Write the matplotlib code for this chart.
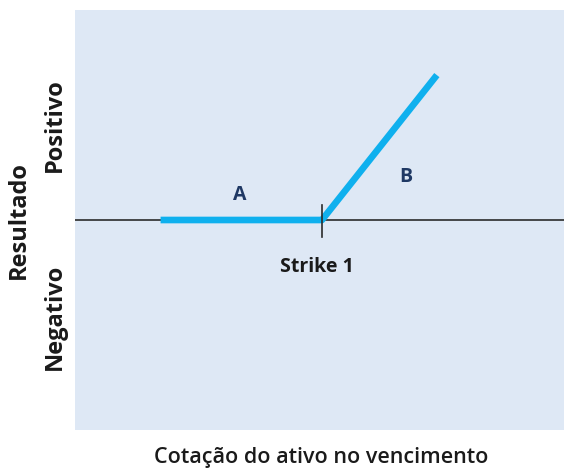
import matplotlib
matplotlib.use("Agg")
import matplotlib.pyplot as plt

# Data (payoff diagram)
payoff_x = [1.75, 5.05, 7.4]
payoff_y = [0.0, 0.0, 3.45]
strike = 5.05
labels_text = ["A", "B"]
labels_x = [3.37, 6.76]
labels_y = [0.6, 1.03]
strike_label = "Strike 1"
x_title = "Cotação do ativo no vencimento"
y_title = "Resultado"
y_pos_label = "Positivo"
y_neg_label = "Negativo"

plt.rcParams['font.family'] = ['Open Sans', 'DejaVu Sans']

fig = plt.figure(figsize=(5.64, 4.68), dpi=100)
W, H = 564, 468
ax = fig.add_axes([75 / W, (H - 430) / H, (564 - 75) / W, 420 / H])
ax.set_facecolor('#DEE8F5')
ax.set_xlim(0, 10)
ax.set_ylim(-5, 5)
for s in ax.spines.values():
    s.set_visible(False)
ax.set_xticks([])
ax.set_yticks([])

ax.axhline(0, color='#2b2b2b', lw=1.2, zorder=1)
ax.plot(payoff_x, payoff_y, color='#0FB0EE', lw=4.8, solid_capstyle='butt', zorder=2)
ax.plot([strike, strike], [-0.4, 0.36], color='#2b2b2b', lw=1.2, zorder=3)

for t, x, y in zip(labels_text, labels_x, labels_y):
    ax.text(x, y, t, color='#1F3864', fontsize=14, fontweight='bold', ha='center', va='center')

ax.text(strike - 0.1, -1.12, strike_label, fontsize=14, fontweight='bold', color='#1a1a1a',
        ha='center', va='center')

fig.text(321 / W, 1 - 457 / H, x_title, fontsize=15.5, fontweight='semibold', color='#1a1a1a',
         ha='center', va='center')
fig.text(19 / W, 1 - 220 / H, y_title, fontsize=17, fontweight='bold', color='#1a1a1a',
         ha='center', va='center', rotation=90)
fig.text(55 / W, 1 - 125 / H, y_pos_label, fontsize=17, fontweight='bold', color='#1a1a1a',
         ha='center', va='center', rotation=90)
fig.text(55 / W, 1 - 317 / H, y_neg_label, fontsize=17, fontweight='bold', color='#1a1a1a',
         ha='center', va='center', rotation=90)

fig.savefig('out.png', dpi=100, facecolor='white')
